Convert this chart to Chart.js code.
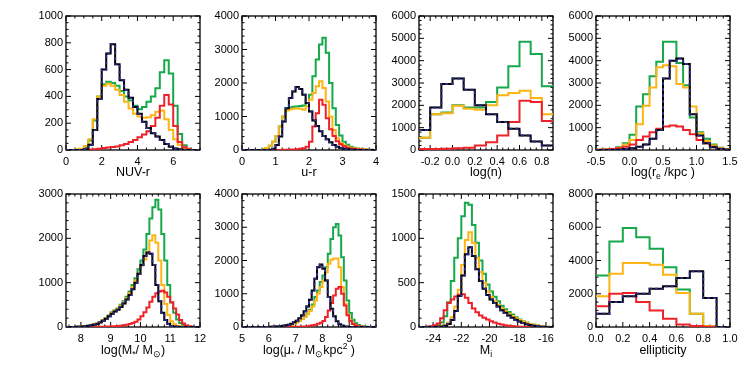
<!DOCTYPE html>
<html>
<head>
<meta charset="utf-8">
<script src="https://cdn.jsdelivr.net/npm/chart.js@4.4.1/dist/chart.umd.min.js"></script>
<style>
  html, body { margin: 0; padding: 0; background: #fff; }
  #wrap { position: relative; width: 747px; height: 371px; overflow: hidden; }
  #wrap canvas { position: absolute; }
</style>
</head>
<body>
<div id="wrap"></div>
<script>
// ---- NUV-r (bins of 0.25 from 0) ----
const nuvXTicks = [0, 2, 4, 6];
const nuvYTicks = [0, 200, 400, 600, 800, 1000];
const nuvNavy   = [0,0,0,0,5,40,150,380,600,720,790,640,520,450,390,320,270,210,165,125,100,75,45,25,12,5,0,0,0,0];
const nuvGreen  = [0,0,0,5,20,70,220,400,490,510,500,480,440,400,370,330,305,320,360,400,460,580,670,570,330,120,35,10,0,0];
const nuvOrange = [0,0,5,10,30,80,230,400,480,495,480,450,410,360,310,270,250,240,245,260,285,295,230,150,80,40,15,5,0,0];
const nuvRed    = [0,0,0,0,2,4,6,10,14,18,22,27,35,45,60,75,95,115,140,180,240,330,410,340,180,60,20,5,0,0];

// ---- u-r (bins of 0.1 from 0) ----
const urXTicks = [0, 1, 2, 3, 4];
const urYTicks = [0, 1000, 2000, 3000, 4000];
const urNavy   = [0,0,0,0,0,0,0,0,10,40,150,400,850,1250,1550,1750,1880,1820,1650,1400,1150,880,720,560,420,320,230,150,100,60,35,20,10,5,0,0,0,0,0,0];
const urGreen  = [0,0,0,0,0,0,20,60,130,250,420,700,1000,1200,1270,1290,1300,1310,1330,1400,1650,2200,2700,3150,3350,2900,2000,1250,750,430,250,160,100,70,45,30,18,10,5,0];
const urOrange = [0,0,0,0,0,0,20,60,130,250,420,700,1000,1180,1220,1230,1240,1230,1200,1300,1500,1700,1900,2050,1850,1450,1000,600,350,220,150,100,70,50,35,25,15,10,5,0];
const urRed    = [0,0,0,0,0,0,0,0,0,0,0,2,5,8,12,18,25,35,50,100,250,700,1100,1500,1350,950,620,420,260,170,110,70,45,30,20,12,8,5,2,0];

// ---- log(n) (bins of 0.1 from -0.3) ----
const nXTicks = [-0.2, 0, 0.2, 0.4, 0.6, 0.8];
const nYTicks = [0, 1000, 2000, 3000, 4000, 5000, 6000];
const nNavy   = [900,1900,2950,3200,2700,2000,1600,1250,950,650,380,200];
const nGreen  = [550,1600,1680,2000,1900,1900,2150,2800,3750,4850,4300,2850];
const nOrange = [550,1600,1650,1980,1850,1800,2000,2450,2550,2650,2330,1600];
const nRed    = [40,50,60,80,100,200,350,650,1250,2200,2150,1300];

// ---- log(re/kpc) (bins of 0.1 from -0.5) ----
const reXTicks = [-0.5, 0, 0.5, 1, 1.5];
const reYTicks = [0, 1000, 2000, 3000, 4000, 5000, 6000];
const reNavy   = [0,0,5,15,40,80,150,250,500,900,3200,4000,4100,3850,1600,650,300,120,40,10];
const reGreen  = [10,20,50,120,300,680,1950,2500,3300,3950,4850,4850,3900,2900,1450,800,500,250,100,30];
const reOrange = [10,20,40,100,250,450,1150,1980,2800,3700,3800,3750,2950,2800,1950,750,400,200,80,20];
const reRed    = [10,20,40,80,150,250,450,600,800,950,1050,1100,1050,900,700,450,300,150,60,20];

// ---- log(M*/Msun) (bins of 0.1 from 7.5) ----
const msXTicks = [8, 9, 10, 11, 12];
const msYTicks = [0, 1000, 2000, 3000];
const msNavy   = [0,0,0,3,8,12,18,25,38,50,70,100,140,185,240,300,350,390,450,530,620,720,850,1000,1200,1400,1600,1680,1650,1400,950,580,320,160,70,25,10,3,0,0,0,0,0,0,0];
const msGreen  = [0,0,2,5,10,15,20,30,45,60,80,110,150,200,260,330,380,420,500,580,680,800,950,1100,1300,1500,1750,2100,2450,2700,2870,2650,2100,1500,950,550,320,170,90,45,20,8,3,0,0];
const msOrange = [0,0,2,5,10,15,20,30,45,60,80,110,150,200,250,320,370,410,480,560,650,760,900,1050,1200,1380,1520,1700,1950,2070,1900,1500,950,520,270,130,60,25,10,3,0,0,0,0,0];
const msRed    = [0,0,0,0,0,0,0,2,3,4,5,6,8,10,12,15,18,22,30,40,50,65,90,120,170,240,330,440,570,680,760,800,820,780,680,560,420,280,160,80,35,15,5,0,0];

// ---- log(mu*) (bins of 0.1 from 5) ----
const muXTicks = [5, 6, 7, 8, 9];
const muYTicks = [0, 1000, 2000, 3000, 4000];
const muNavy   = [0,0,0,0,0,0,0,0,1,2,5,8,12,18,25,35,50,70,100,140,190,260,350,470,620,820,1100,1450,1800,1880,1750,1400,900,550,320,170,80,35,15,5,2,0,0,0,0,0,0,0,0,0];
const muGreen  = [0,0,0,0,0,0,0,0,1,2,3,5,8,12,18,25,35,50,70,100,140,180,240,310,400,520,680,900,1100,1350,1550,1800,2200,2650,3000,3100,2750,2100,1400,800,420,220,110,60,30,15,8,3,0,0];
const muOrange = [0,0,0,0,0,0,0,0,1,2,3,5,8,12,18,25,35,50,70,100,140,180,240,300,380,480,620,800,1000,1200,1400,1650,1900,2020,2060,2060,1800,1200,700,380,200,100,50,25,12,5,2,0,0,0];
const muRed    = [0,0,0,0,0,0,0,0,0,0,0,0,0,0,0,0,0,0,2,3,5,8,12,18,25,35,50,70,100,130,180,300,500,720,950,1150,1200,1000,650,350,180,90,45,20,8,3,0,0,0,0];

// ---- M_i (bins of 0.25 from -25) ----
const miXTicks = [-24, -22, -20, -18, -16];
const miYTicks = [0, 500, 1000, 1500];
const miNavy   = [0,0,0,0,0,2,5,15,35,80,180,350,580,820,900,800,650,520,430,360,310,270,230,190,160,130,105,82,62,45,32,22,14,8,4,2,0,0];
const miGreen  = [0,0,2,5,10,20,50,120,280,520,780,1000,1250,1400,1380,1150,950,750,600,480,400,340,290,240,200,170,140,110,85,65,50,35,25,15,10,5,2,0];
const miOrange = [0,0,0,0,2,5,10,25,50,110,230,420,700,980,1070,950,780,620,500,400,340,290,250,210,180,150,125,100,80,62,48,35,25,15,10,5,2,0];
const miRed    = [0,0,3,8,20,40,100,190,270,310,345,365,370,330,270,210,165,130,105,85,65,50,38,28,20,14,10,6,4,2,0,0,0,0,0,0,0,0];

// ---- ellipticity (bins of 0.1 from 0) ----
const elXTicks = [0, 0.2, 0.4, 0.6, 0.8, 1];
const elYTicks = [0, 2000, 4000, 6000, 8000];
const elNavy   = [800,1500,1850,2000,2300,2450,2950,3350,1750,0];
const elGreen  = [3100,5150,5950,5400,4700,3600,2250,800,60,0];
const elOrange = [1850,3200,3850,3850,3750,3150,2050,800,60,0];
const elRed    = [1250,2000,2050,1500,1000,500,150,60,20,0];

const FONT = "'Liberation Sans', Arial, Helvetica, sans-serif";
const NAVY = '#2a2a80', GREEN = '#16a84a', ORANGE = '#fdb515', RED = '#ee2229';

Chart.defaults.font.family = FONT;
Chart.defaults.font.size = 11;
Chart.defaults.color = '#000';

// room around each plot box inside its canvas
const L = 48, R = 10, T = 10, B = 40;

const panels = [
  { left: 66,  top: 16,  w: 134, h: 134, xMin: 0,    xMax: 7.5,  bin0: 0,    binW: 0.25, xTicks: nuvXTicks, yTicks: nuvYTicks, xDec: 0, xMinor: 0.5,  yMinor: 50,
    series: [nuvNavy, nuvRed, nuvOrange, nuvGreen], title: [['NUV-r']], gap: 26 },
  { left: 242, top: 16,  w: 134, h: 134, xMin: 0,    xMax: 4,    bin0: 0,    binW: 0.1,  xTicks: urXTicks, yTicks: urYTicks, xDec: 0, xMinor: 0.2,  yMinor: 200,
    series: [urNavy, urRed, urOrange, urGreen], title: [['u-r']], gap: 26 },
  { left: 419, top: 16,  w: 134, h: 134, xMin: -0.3, xMax: 0.9,  bin0: -0.3, binW: 0.1,  xTicks: nXTicks, yTicks: nYTicks, xDec: 1, xMinor: 0.05, yMinor: 200,
    series: [nNavy, nRed, nOrange, nGreen], title: [['log(n)']], gap: 26 },
  { left: 596, top: 16,  w: 134, h: 134, xMin: -0.5, xMax: 1.5,  bin0: -0.5, binW: 0.1,  xTicks: reXTicks, yTicks: reYTicks, xDec: 1, xMinor: 0.1,  yMinor: 200,
    series: [reNavy, reRed, reOrange, reGreen], title: [['log(r'], ['e', 'sub'], [' /kpc )']], gap: 26 },
  { left: 66,  top: 194, w: 134, h: 133, xMin: 7.5,  xMax: 12,   bin0: 7.5,  binW: 0.1,  xTicks: msXTicks, yTicks: msYTicks, xDec: 0, xMinor: 0.2,  yMinor: 200,
    series: [msNavy, msRed, msOrange, msGreen], title: [['log(M'], ['*', 'sub'], ['/ M'], ['\u2299', 'sub'], [')']], gap: 27 },
  { left: 242, top: 194, w: 134, h: 133, xMin: 5,    xMax: 10,   bin0: 5,    binW: 0.1,  xTicks: muXTicks, yTicks: muYTicks, xDec: 0, xMinor: 0.2,  yMinor: 200,
    series: [muNavy, muRed, muOrange, muGreen], title: [['log(\u03bc'], ['*', 'sub'], [' / M'], ['\u2299', 'sub'], ['kpc'], ['2', 'sup'], [' )']], gap: 27 },
  { left: 419, top: 194, w: 134, h: 133, xMin: -25,  xMax: -15.5, bin0: -25, binW: 0.25, xTicks: miXTicks, yTicks: miYTicks, xDec: 0, xMinor: 0.5,  yMinor: 100,
    series: [miNavy, miRed, miOrange, miGreen], title: [['M'], ['i', 'sub']], gap: 27 },
  { left: 596, top: 194, w: 134, h: 133, xMin: 0,    xMax: 1,    bin0: 0,    binW: 0.1,  xTicks: elXTicks, yTicks: elYTicks, xDec: 1, xMinor: 0.05, yMinor: 500,
    series: [elNavy, elRed, elOrange, elGreen], title: [['ellipticity']], gap: 27 }
];

// histogram steps: one point per bin left edge, plus the closing right edge
function steps(values, start, width) {
  const pts = values.map((v, i) => ({ x: start + i * width, y: v }));
  pts.push({ x: start + values.length * width, y: values[values.length - 1] });
  return pts;
}

// IDL-like box with inward major/minor ticks, plus axis title with sub/superscripts
const idlFrame = {
  id: 'idlFrame',
  beforeDatasetsDraw(chart, args, opts) {
    const { ctx, chartArea: a, scales: { x, y } } = chart;
    ctx.save();
    ctx.strokeStyle = '#000';
    ctx.lineWidth = 1.3;
    ctx.strokeRect(a.left, a.top, a.right - a.left, a.bottom - a.top);
    ctx.lineWidth = 1;
    ctx.beginPath();
    const isMajor = (scale, v, step) => scale.ticks.some(t => Math.abs(t.value - v) < step / 10);
    let k0 = Math.ceil(x.min / opts.xMinor - 1e-6), k1 = Math.floor(x.max / opts.xMinor + 1e-6);
    for (let k = k0; k <= k1; k++) {
      const v = k * opts.xMinor, px = x.getPixelForValue(v);
      const len = isMajor(x, v, opts.xMinor) ? 5 : 2.5;
      ctx.moveTo(px, a.bottom); ctx.lineTo(px, a.bottom - len);
      ctx.moveTo(px, a.top); ctx.lineTo(px, a.top + len);
    }
    k0 = Math.ceil(y.min / opts.yMinor - 1e-6); k1 = Math.floor(y.max / opts.yMinor + 1e-6);
    for (let k = k0; k <= k1; k++) {
      const v = k * opts.yMinor, py = y.getPixelForValue(v);
      const len = isMajor(y, v, opts.yMinor) ? 5 : 2.5;
      ctx.moveTo(a.left, py); ctx.lineTo(a.left + len, py);
      ctx.moveTo(a.right, py); ctx.lineTo(a.right - len, py);
    }
    ctx.stroke();
    ctx.restore();
  },
  afterDraw(chart, args, opts) {
    const { ctx, chartArea: a } = chart;
    const fontFor = m => (m ? '8.5px ' : '12.5px ') + FONT;
    ctx.save();
    ctx.fillStyle = '#000';
    ctx.textAlign = 'left';
    ctx.textBaseline = 'alphabetic';
    let total = 0;
    opts.title.forEach(([t, m]) => { ctx.font = fontFor(m); total += ctx.measureText(t).width; });
    let cx = (a.left + a.right) / 2 - total / 2;
    const by = a.bottom + opts.gap;
    opts.title.forEach(([t, m]) => {
      ctx.font = fontFor(m);
      const dy = m === 'sub' ? 3 : (m === 'sup' ? -5 : 0);
      ctx.fillText(t, cx, by + dy);
      cx += ctx.measureText(t).width;
    });
    ctx.restore();
  }
};

const wrap = document.getElementById('wrap');

panels.forEach(p => {
  const canvas = document.createElement('canvas');
  const cw = p.w + L + R, ch = p.h + T + B;
  canvas.width = cw; canvas.height = ch;
  canvas.style.width = cw + 'px'; canvas.style.height = ch + 'px';
  canvas.style.left = (p.left - L) + 'px';
  canvas.style.top = (p.top - T) + 'px';
  wrap.appendChild(canvas);

  const [navy, red, orange, green] = p.series;
  const line = (vals, color, order, extra) => Object.assign({
    data: steps(vals, p.bin0, p.binW),
    borderColor: color,
    borderWidth: 2,
    stepped: 'before',
    pointRadius: 0,
    fill: false,
    order: order
  }, extra || {});

  new Chart(canvas.getContext('2d'), {
    type: 'line',
    data: {
      datasets: [
        line(navy, NAVY, 0, { borderDash: [3, 3] }),
        line(navy, '#000', 1),
        line(red, RED, 2),
        line(orange, ORANGE, 3),
        line(green, GREEN, 4)
      ]
    },
    options: {
      responsive: false,
      animation: false,
      events: [],
      layout: { padding: { left: 0, top: T, right: R, bottom: 0 } },
      scales: {
        x: {
          type: 'linear',
          min: p.xMin,
          max: p.xMax,
          afterBuildTicks: s => { s.ticks = p.xTicks.map(v => ({ value: v })); },
          afterFit: s => { s.height = B; s.paddingLeft = 0; s.paddingRight = 0; },
          grid: { display: false, drawTicks: false },
          border: { display: false },
          ticks: { padding: 5, maxRotation: 0, autoSkip: false, callback: v => Number(v).toFixed(p.xDec) }
        },
        y: {
          type: 'linear',
          min: 0,
          max: p.yTicks[p.yTicks.length - 1],
          afterBuildTicks: s => { s.ticks = p.yTicks.map(v => ({ value: v })); },
          afterFit: s => { s.width = L; s.paddingTop = 0; s.paddingBottom = 0; },
          grid: { display: false, drawTicks: false },
          border: { display: false },
          ticks: { padding: 3, autoSkip: false, callback: v => String(v) }
        }
      },
      plugins: {
        legend: { display: false },
        tooltip: { enabled: false },
        idlFrame: { xMinor: p.xMinor, yMinor: p.yMinor, title: p.title, gap: p.gap }
      }
    },
    plugins: [idlFrame]
  });
});
</script>
</body>
</html>
